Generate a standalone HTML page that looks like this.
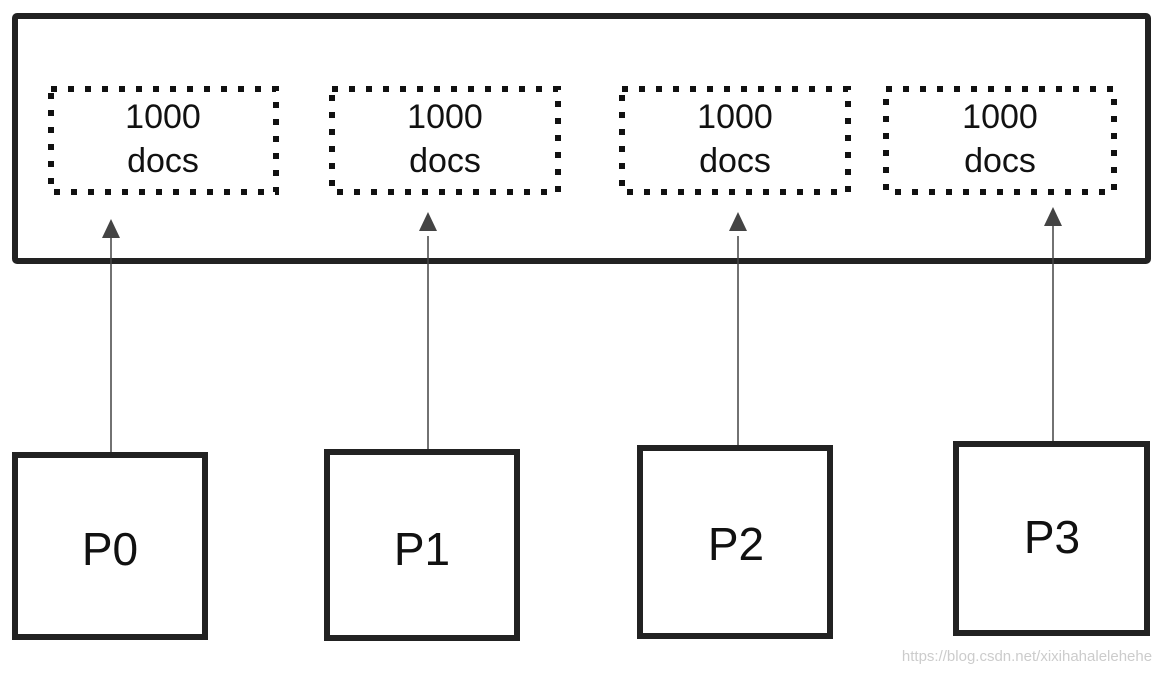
<!DOCTYPE html>
<html><head><style>
html,body{margin:0;padding:0;background:#fff;}
svg{display:block;}
text{font-family:"Liberation Sans",sans-serif;fill:#111;}
</style></head><body>
<svg width="1171" height="673" viewBox="0 0 1171 673">
<rect x="0" y="0" width="1171" height="673" fill="#fff"/>
<rect x="15" y="16" width="1133" height="245" fill="none" stroke="#222" stroke-width="6" rx="2"/>
<g fill="none" stroke="#111" stroke-width="6" stroke-dasharray="6 11">
<rect x="51" y="89" width="225" height="103"/>
<rect x="332" y="89" width="226" height="103"/>
<rect x="622" y="89" width="226" height="103"/>
<rect x="886" y="89" width="228" height="103"/>
</g>
<g font-size="34" text-anchor="middle">
<text x="163" y="128">1000</text><text x="163" y="172">docs</text>
<text x="445" y="128">1000</text><text x="445" y="172">docs</text>
<text x="735" y="128">1000</text><text x="735" y="172">docs</text>
<text x="1000" y="128">1000</text><text x="1000" y="172">docs</text>
</g>
<g stroke="#444" stroke-width="1.5">
<line x1="111" y1="236" x2="111" y2="452"/>
<line x1="428" y1="236" x2="428" y2="449"/>
<line x1="738" y1="236" x2="738" y2="445"/>
<line x1="1053" y1="226" x2="1053" y2="441"/>
</g>
<g fill="#444">
<polygon points="111,219 102,238 120,238"/>
<polygon points="428,212 419,231 437,231"/>
<polygon points="738,212 729,231 747,231"/>
<polygon points="1053,207 1044,226 1062,226"/>
</g>
<g fill="none" stroke="#222" stroke-width="6">
<rect x="15" y="455" width="190" height="182"/>
<rect x="327" y="452" width="190" height="186"/>
<rect x="640" y="448" width="190" height="188"/>
<rect x="956" y="444" width="191" height="189"/>
</g>
<g font-size="46" text-anchor="middle">
<text x="110" y="565">P0</text>
<text x="422" y="565">P1</text>
<text x="736" y="560">P2</text>
<text x="1052" y="553">P3</text>
</g>
<text x="1027" y="661" font-size="15" text-anchor="middle" style="fill:#ccc">https://blog.csdn.net/xixihahalelehehe</text>
</svg>
</body></html>
